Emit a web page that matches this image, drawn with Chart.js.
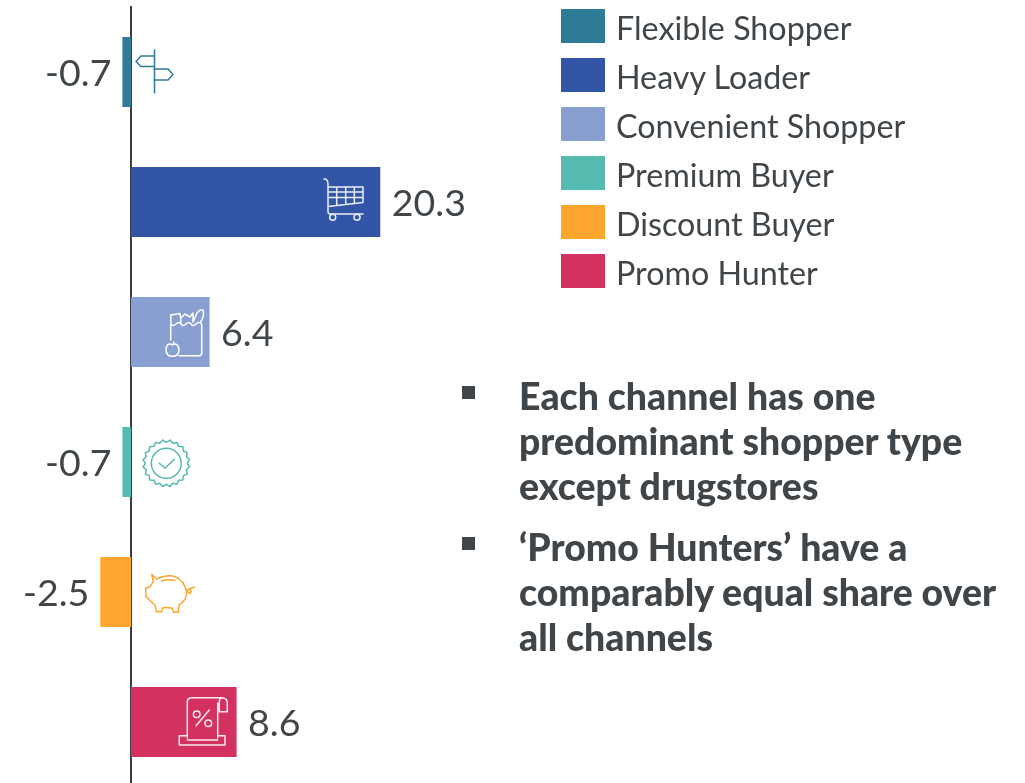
<!DOCTYPE html>
<html><head><meta charset="utf-8">
<script src="https://cdn.jsdelivr.net/npm/chart.js@4"></script>
<style>
html,body{margin:0;padding:0;background:#fff;width:1025px;height:783px;overflow:hidden}
#wrap{position:relative;width:1025px;height:783px;overflow:hidden;font-family:Lato,sans-serif;color:#3f4549}
canvas{position:absolute;left:0;top:0}
.leg{position:absolute;left:561px;width:43.5px;height:34px}
.legt{position:absolute;left:616px;font-size:32.25px;line-height:40px;white-space:nowrap}
.bul{position:absolute;left:519px;font-weight:900;font-size:37.4px;line-height:45px;white-space:nowrap}
.sq{position:absolute;left:462px;width:13px;height:13px;background:#3f4549}
#icons{position:absolute;left:0;top:0;width:1025px;height:783px;pointer-events:none}
#icons *{fill:none;stroke-width:1.5;stroke-linecap:round;stroke-linejoin:round}
</style></head><body>
<div id="wrap">
<canvas id="c" width="1025" height="790"></canvas>
<svg id="icons" viewBox="0 0 1025 783">
 <g style="stroke:#2f7b95">
  <path d="M154.5 50V93M154 56H141L136 61.5L141 66.5H154M154 69H168L173 74.5L168 80H154"/>
 </g>
 <g style="stroke:#fff;opacity:.9">
  <path d="M324 179Q328 179 328 184V212Q328 214 331 214H363M328 187H363V202.5L328 206.5M328 192H363M328 197.5H363M336.7 187V205.5M345.7 187V204.5M354.3 187V203.5"/>
  <circle cx="332.7" cy="217.3" r="3"/><circle cx="357" cy="217.3" r="3"/>
 </g>
 <g style="stroke:#fff">
  <path d="M170.7 340V324Q173 327 176 324T181 324T186 324T191 324T196 324T201.7 324V353Q201.7 355.7 199 355.7H179M171 323L170.7 315L180 313.5L181 322M181 318L185 314L190 317L193 313V322M193 322L197 313Q200 309 203 310Q205 316 200 323"/>
  <path d="M172.3 345C168 342 166 346 166 350C166 354 169 357 172.3 356C176 357 179 354 179 350C179 346 176 342 172.3 345ZM172.3 345L174 342"/>
 </g>
 <g style="stroke:#55bab0">
  <circle cx="166.3" cy="463.3" r="15"/>
  <path id="badge"/>
  <path d="M159.3 463.3L165 468.3L174.3 459.3"/>
 </g>
 <g style="stroke:#ffa62f">
  <path d="M151.7 574.3L156.7 579Q168 574 175 576.7Q184 580 186.7 592Q187 600 179 605L178.3 612.3H173.7L172.3 608.3Q167 607 162.7 607.7L161.7 611.7H156.7L155 605Q150 601 146 596.5L145.7 588.3L150 586.5Q153.5 582 153 580Z"/>
  <path d="M161.7 581Q168 579 175 580.5M187 590Q190 588 191 591Q191 594 189 593Q187 592 187 590L194.3 587"/>
 </g>
 <g style="stroke:#fff;opacity:.9">
  <path d="M187.3 738V702Q187.3 697.7 192 697.7H222Q227.3 698 227.3 703V711.7H219.3V702Q219.3 698 222 697.7M217.7 703V738M187.3 735.7H179.3V745H225V735.7H217.7M187.3 740H217.7"/>
  <path d="M196 725.7L209.3 710"/>
  <circle cx="196.7" cy="714.3" r="3.3"/><circle cx="208.3" cy="723.3" r="3.3"/>
 </g>
</svg>
</div>
<script>
const categories = ["Flexible Shopper","Heavy Loader","Convenient Shopper","Premium Buyer","Discount Buyer","Promo Hunter"];
const values = [-0.7,20.3,6.4,-0.7,-2.5,8.6];
const colors = ["#2f7b95","#3355a8","#8a9fd1","#55bab0","#ffa62f","#d3315f"];
const notes = [["Each channel has one","predominant shopper type","except drugstores"],["‘Promo Hunters’ have a","comparably equal share over","all channels"]];
const legendTops = [9,58,107,156,205,254];
const noteTops = [372.5,523.5];
const squareTops = [386,537];

const wrap = document.getElementById('wrap');
categories.forEach((c,i)=>{
  const s=document.createElement('div');s.className='leg';s.style.top=legendTops[i]+'px';s.style.background=colors[i];wrap.appendChild(s);
  const t=document.createElement('div');t.className='legt';t.style.top=(legendTops[i]-1)+'px';t.textContent=c;wrap.appendChild(t);
});
notes.forEach((n,i)=>{
  const q=document.createElement('div');q.className='sq';q.style.top=squareTops[i]+'px';wrap.appendChild(q);
  const b=document.createElement('div');b.className='bul';b.style.top=noteTops[i]+'px';b.innerHTML=n.join('<br>');wrap.appendChild(b);
});
// scalloped badge outline
(function(){let d='';const n=20,cx=166.3,cy=463.3;
 for(let i=0;i<=n*2;i++){const a=i*Math.PI/n,r=i%2?23.5:21;
  const x=(cx+r*Math.cos(a)).toFixed(1),y=(cy+r*Math.sin(a)).toFixed(1);d+=(i?'L':'M')+x+' '+y;}
 document.getElementById('badge').setAttribute('d',d+'Z');})();

const valueLabels={id:'valueLabels',afterDatasetsDraw(chart){
  const ctx=chart.ctx;ctx.save();ctx.font='37.5px Lato';ctx.fillStyle='#3f4549';ctx.textBaseline='middle';
  chart.getDatasetMeta(0).data.forEach((el,i)=>{
    const v=values[i];ctx.textAlign=v<0?'right':'left';
    ctx.fillText(v.toFixed(1),el.x+(v<0?-11:11.5),el.y+2);
  });ctx.restore();}};
new Chart(document.getElementById('c'),{
  type:'bar',
  data:{labels:categories,datasets:[{data:values,backgroundColor:colors,barPercentage:0.54,categoryPercentage:1}]},
  options:{indexAxis:'y',responsive:false,animation:false,
    layout:{padding:{left:8.2,right:34.4,top:7,bottom:3}},
    plugins:{legend:{display:false},tooltip:{enabled:false}},
    scales:{
      x:{display:false,min:-10,max:70,grid:{display:false}},
      y:{position:{x:0},z:1,grid:{display:false,drawTicks:false},ticks:{display:false},border:{display:true,color:'#3a3f44',width:2}}
    }},
  plugins:[valueLabels]
});
</script>
</body></html>
